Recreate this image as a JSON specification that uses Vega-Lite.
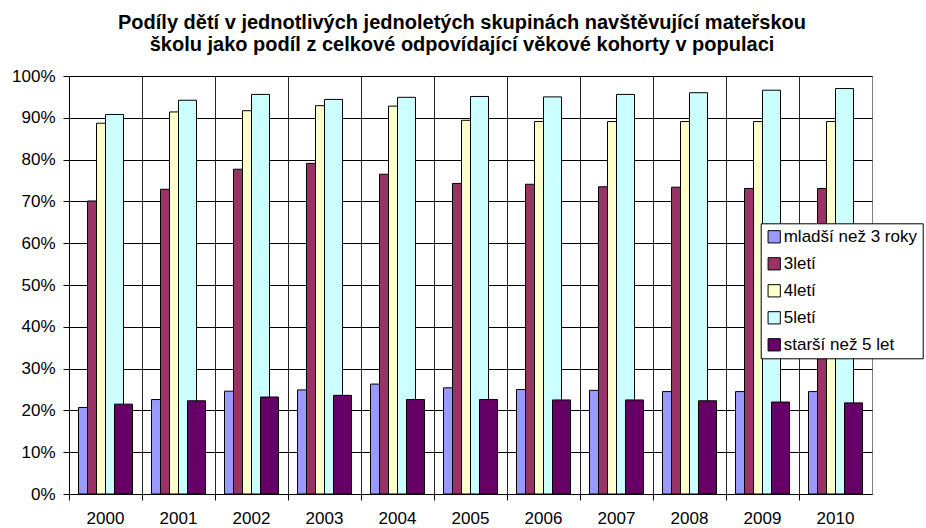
{
  "$schema": "https://vega.github.io/schema/vega-lite/v6.json",
  "autosize": "none",
  "width": 803,
  "height": 418,
  "padding": {"left": 69, "top": 76, "right": 54, "bottom": 34},
  "background": "white",
  "config": {
    "font": "Liberation Sans",
    "view": {"stroke": "#808080", "strokeWidth": 1}
  },
  "title": {
    "text": ["Podíly dětí v jednotlivých jednoletých skupinách navštěvující mateřskou", "školu jako podíl z celkové odpovídající věkové kohorty v populaci"],
    "font": "Liberation Sans",
    "fontSize": 20,
    "fontWeight": "bold",
    "color": "#000000",
    "anchor": "middle",
    "dx": -8.5,
    "offset": 12,
    "lineHeight": 22
  },
  "data": {
    "values": [
      {"year": "2000", "series": "mladší než 3 roky", "value": 0.207},
      {"year": "2000", "series": "3letí", "value": 0.701},
      {"year": "2000", "series": "4letí", "value": 0.887},
      {"year": "2000", "series": "5letí", "value": 0.908},
      {"year": "2000", "series": "starší než 5 let", "value": 0.215},
      {"year": "2001", "series": "mladší než 3 roky", "value": 0.226},
      {"year": "2001", "series": "3letí", "value": 0.729},
      {"year": "2001", "series": "4letí", "value": 0.914},
      {"year": "2001", "series": "5letí", "value": 0.942},
      {"year": "2001", "series": "starší než 5 let", "value": 0.223},
      {"year": "2002", "series": "mladší než 3 roky", "value": 0.246},
      {"year": "2002", "series": "3letí", "value": 0.777},
      {"year": "2002", "series": "4letí", "value": 0.917},
      {"year": "2002", "series": "5letí", "value": 0.956},
      {"year": "2002", "series": "starší než 5 let", "value": 0.232},
      {"year": "2003", "series": "mladší než 3 roky", "value": 0.249},
      {"year": "2003", "series": "3letí", "value": 0.791},
      {"year": "2003", "series": "4letí", "value": 0.929},
      {"year": "2003", "series": "5letí", "value": 0.944},
      {"year": "2003", "series": "starší než 5 let", "value": 0.236},
      {"year": "2004", "series": "mladší než 3 roky", "value": 0.263},
      {"year": "2004", "series": "3letí", "value": 0.765},
      {"year": "2004", "series": "4letí", "value": 0.928},
      {"year": "2004", "series": "5letí", "value": 0.949},
      {"year": "2004", "series": "starší než 5 let", "value": 0.226},
      {"year": "2005", "series": "mladší než 3 roky", "value": 0.254},
      {"year": "2005", "series": "3letí", "value": 0.743},
      {"year": "2005", "series": "4letí", "value": 0.894},
      {"year": "2005", "series": "5letí", "value": 0.951},
      {"year": "2005", "series": "starší než 5 let", "value": 0.226},
      {"year": "2006", "series": "mladší než 3 roky", "value": 0.250},
      {"year": "2006", "series": "3letí", "value": 0.741},
      {"year": "2006", "series": "4letí", "value": 0.891},
      {"year": "2006", "series": "5letí", "value": 0.950},
      {"year": "2006", "series": "starší než 5 let", "value": 0.225},
      {"year": "2007", "series": "mladší než 3 roky", "value": 0.248},
      {"year": "2007", "series": "3letí", "value": 0.735},
      {"year": "2007", "series": "4letí", "value": 0.891},
      {"year": "2007", "series": "5letí", "value": 0.956},
      {"year": "2007", "series": "starší než 5 let", "value": 0.225},
      {"year": "2008", "series": "mladší než 3 roky", "value": 0.245},
      {"year": "2008", "series": "3letí", "value": 0.734},
      {"year": "2008", "series": "4letí", "value": 0.891},
      {"year": "2008", "series": "5letí", "value": 0.960},
      {"year": "2008", "series": "starší než 5 let", "value": 0.223},
      {"year": "2009", "series": "mladší než 3 roky", "value": 0.245},
      {"year": "2009", "series": "3letí", "value": 0.731},
      {"year": "2009", "series": "4letí", "value": 0.891},
      {"year": "2009", "series": "5letí", "value": 0.966},
      {"year": "2009", "series": "starší než 5 let", "value": 0.220},
      {"year": "2010", "series": "mladší než 3 roky", "value": 0.245},
      {"year": "2010", "series": "3letí", "value": 0.731},
      {"year": "2010", "series": "4letí", "value": 0.891},
      {"year": "2010", "series": "5letí", "value": 0.970},
      {"year": "2010", "series": "starší než 5 let", "value": 0.218}
    ]
  },
  "mark": {"type": "bar", "width": 18, "stroke": "#000000", "strokeWidth": 1, "opacity": 1},
  "encoding": {
    "x": {
      "field": "year",
      "type": "ordinal",
      "scale": {"paddingInner": 0, "paddingOuter": 0},
      "axis": {
        "title": null,
        "labelAngle": 0,
        "bandPosition": 0,
        "labelOffset": 0,
        "labelFontSize": 17,
        "labelColor": "#000000",
        "labelPadding": 10,
        "tickSize": 6,
        "tickColor": "#000000",
        "domainColor": "#000000",
        "grid": true,
        "gridColor": "#000000",
        "gridOpacity": 0.85
      }
    },
    "xOffset": {
      "field": "series",
      "type": "nominal",
      "sort": ["mladší než 3 roky", "3letí", "4letí", "5letí", "starší než 5 let"],
      "scale": {"range": [14, 59], "paddingInner": 0, "paddingOuter": 0}
    },
    "y": {
      "field": "value",
      "type": "quantitative",
      "scale": {"domain": [0, 1], "nice": false},
      "axis": {
        "title": null,
        "values": [0, 0.1, 0.2, 0.3, 0.4, 0.5, 0.6, 0.7, 0.8, 0.9, 1],
        "format": ".0%",
        "labelFontSize": 17,
        "labelColor": "#000000",
        "labelPadding": 8,
        "tickSize": 6,
        "tickColor": "#000000",
        "domainColor": "#000000",
        "grid": true,
        "gridColor": "#000000"
      }
    },
    "color": {
      "field": "series",
      "type": "nominal",
      "sort": ["mladší než 3 roky", "3letí", "4letí", "5letí", "starší než 5 let"],
      "scale": {
        "domain": ["mladší než 3 roky", "3letí", "4letí", "5letí", "starší než 5 let"],
        "range": ["#9999FF", "#993366", "#FFFFCC", "#CCFFFF", "#660066"]
      },
      "legend": {
        "title": null,
        "orient": "none",
        "legendX": 691.7,
        "legendY": 147.3,
        "fillColor": "#FFFFFF",
        "strokeColor": "#000000",
        "padding": 5,
        "symbolType": "square",
        "symbolSize": 150,
        "symbolStrokeColor": "#000000",
        "symbolStrokeWidth": 1,
        "symbolOpacity": 1,
        "labelFontSize": 17,
        "labelColor": "#000000",
        "labelOffset": 1,
        "rowPadding": 9,
        "labelLimit": 300
      }
    }
  }
}
